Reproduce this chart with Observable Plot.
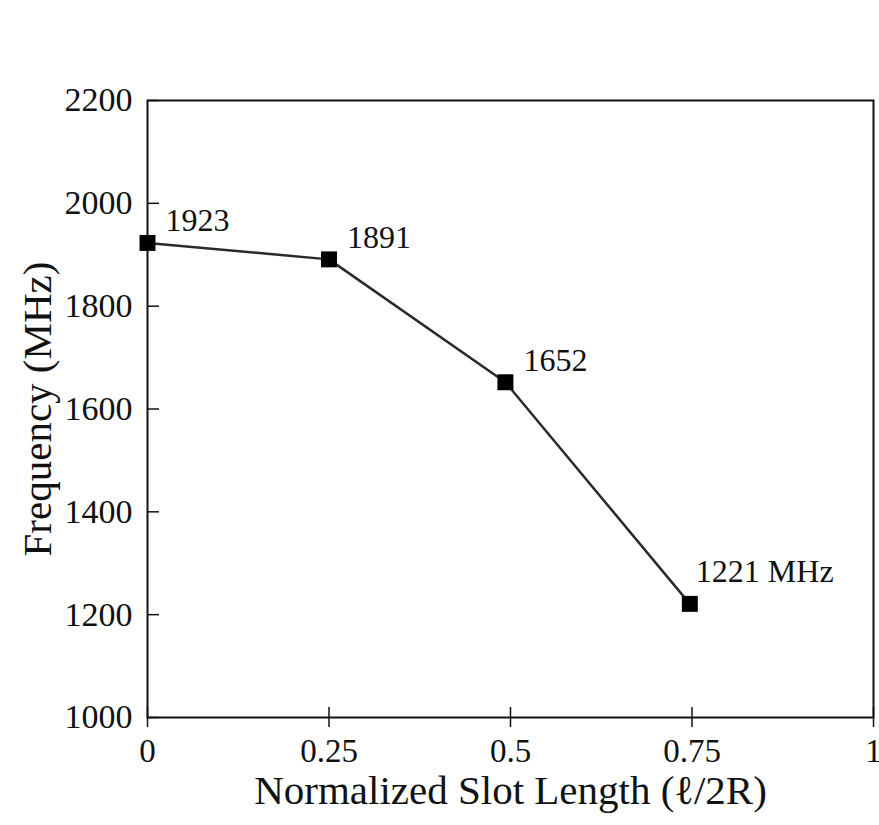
<!DOCTYPE html>
<html>
<head>
<meta charset="utf-8">
<script src="https://cdn.jsdelivr.net/npm/d3@7"></script>
<script src="https://cdn.jsdelivr.net/npm/@observablehq/plot@0.6"></script>
<style>
  html, body { margin: 0; padding: 0; background: #fff; }
  #chart svg { display: block; }
</style>
</head>
<body>
<div id="chart"></div>
<script>
const slotLength = [0, 0.25, 0.493, 0.747];
const frequency = [1923, 1891, 1652, 1221];
const pointLabels = ["1923", "1891", "1652", "1221 MHz"];
const xTicks = [0, 0.25, 0.5, 0.75, 1];
const xTickLabels = ["0", "0.25", "0.5", "0.75", "1"];
const yTicks = [1000, 1200, 1400, 1600, 1800, 2000, 2200];
const xTitle = "Normalized Slot Length (\u2113/2R)";
const yTitle = "Frequency (MHz)";

const data = slotLength.map((x, i) => ({x, y: frequency[i], label: pointLabels[i]}));
const font = "'Liberation Serif', 'Times New Roman', serif";

const chart = Plot.plot({
  width: 879,
  height: 825,
  marginLeft: 147,
  marginRight: 6,
  marginTop: 100,
  marginBottom: 108,
  style: {fontFamily: font, fontSize: "32px", color: "#111", background: "#fff"},
  x: {domain: [0, 1]},
  y: {domain: [1000, 2200]},
  marks: [
    Plot.axisY(yTicks, {tickSize: -12, tickFormat: () => "", label: null, stroke: "#111", strokeWidth: 1.5}),
    Plot.axisY(yTicks, {tickSize: 0, tickPadding: 15, fontSize: 34, label: null, tickFormat: d => String(d), fill: "#111"}),
    Plot.axisX(xTicks, {tickSize: 10, tickFormat: () => "", label: null, stroke: "#111", strokeWidth: 1.5}),
    Plot.axisX(xTicks, {tickSize: -10, tickFormat: () => "", label: null, stroke: "#111", strokeWidth: 1.5}),
    Plot.axisX(xTicks, {tickSize: 0, tickPadding: 21, fontSize: 33, label: null, tickFormat: d => xTickLabels[xTicks.indexOf(d)], fill: "#111"}),
    Plot.frame({stroke: "#111", strokeWidth: 2}),
    Plot.line(data, {x: "x", y: "y", stroke: "#2a2a2a", strokeWidth: 2.5}),
    Plot.dot(data, {x: "x", y: "y", symbol: "square", r: 9, fill: "#000", stroke: "none"}),
    Plot.text(data.slice(0, 3), {x: "x", y: "y", text: "label", textAnchor: "start", dx: 18, dy: -22, fontSize: 32, fill: "#111"}),
    Plot.text(data.slice(3), {x: "x", y: "y", text: "label", textAnchor: "start", dx: 6, dy: -32, fontSize: 32, fill: "#111"}),
    Plot.text([xTitle], {text: d => d, frameAnchor: "bottom", textAnchor: "middle", lineAnchor: "middle", dy: 73, fontSize: 41, fill: "#111"}),
    Plot.text([yTitle], {text: d => d, frameAnchor: "left", textAnchor: "middle", lineAnchor: "middle", rotate: -90, dx: -110, fontSize: 41, fill: "#111"})
  ]
});
document.getElementById("chart").appendChild(chart);
</script>
</body>
</html>
